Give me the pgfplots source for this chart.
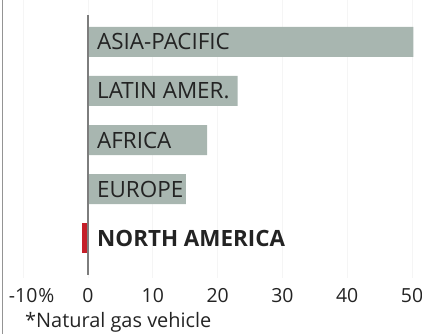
\documentclass[border=0pt]{standalone}
\usepackage{pgfplots}
\pgfplotsset{compat=1.18}
\usepackage{fontspec}
\setmainfont{Open Sans}
\definecolor{barc}{RGB}{168,182,176}
\definecolor{redc}{RGB}{196,30,40}
\definecolor{txt}{RGB}{35,35,35}
\definecolor{zline}{RGB}{125,125,125}
\begin{document}
\begin{tikzpicture}
\begin{axis}[
  scale only axis, width=422bp, height=278bp,
  xmin=-13.58, xmax=51.54, ymin=-0.816, ymax=4.857,
  axis line style={draw=none},
  ytick=\empty,
  xtick={-10,0,10,20,30,40,50},
  xticklabels={-10\rlap{\kern1pt\%},0,10,20,30,40,50},
  major tick length=0pt,
  xmajorgrids, grid style={draw=black!4, line width=0.8pt},
  xticklabel style={anchor=base, yshift=-24.5bp, font=\fontsize{19.5}{21}\selectfont, text=txt},
  /pgf/number format/assume math mode=true,
  clip=false,
]
\addplot[xbar, bar width=30bp, fill=barc, draw=none, bar shift=0pt] coordinates {
  (50.2,4) (23.1,3) (18.4,2) (15.1,1)
};
\addplot[xbar, bar width=30bp, fill=redc, draw=none, bar shift=0pt] coordinates {
  (-1,0)
};
\draw[zline, line width=1.4pt] (axis cs:0,4.55) -- (axis cs:0,-0.76);
\begin{scope}[every node/.style={anchor=west, text=txt, font=\fontsize{22.5}{24}\selectfont, inner sep=0pt}]
\node at ([xshift=9bp]axis cs:0,4) {ASIA-PACIFIC};
\node at ([xshift=9bp]axis cs:0,3) {LATIN AMER.};
\node at ([xshift=9bp]axis cs:0,2) {AFRICA};
\node at ([xshift=9bp]axis cs:0,1) {EUROPE};
\node at ([xshift=9bp]axis cs:0,0) {\bfseries NORTH AMERICA};
\end{scope}
\coordinate (SW) at (rel axis cs:0,0);
\coordinate (NE) at (rel axis cs:1,1);
\end{axis}
\node[anchor=base west, inner sep=0pt, text=txt, font=\fontsize{20}{22}\selectfont] at ([xshift=25bp, yshift=-49.5bp]SW) {*Natural gas vehicle};
\pgfresetboundingbox
\path[use as bounding box] ([yshift=-56bp]SW) rectangle (NE);
\draw[black!42, line width=1.5pt] ([xshift=2.5bp, yshift=-56bp]SW) -- ([xshift=2.5bp]SW |- NE);
\end{tikzpicture}
\end{document}
